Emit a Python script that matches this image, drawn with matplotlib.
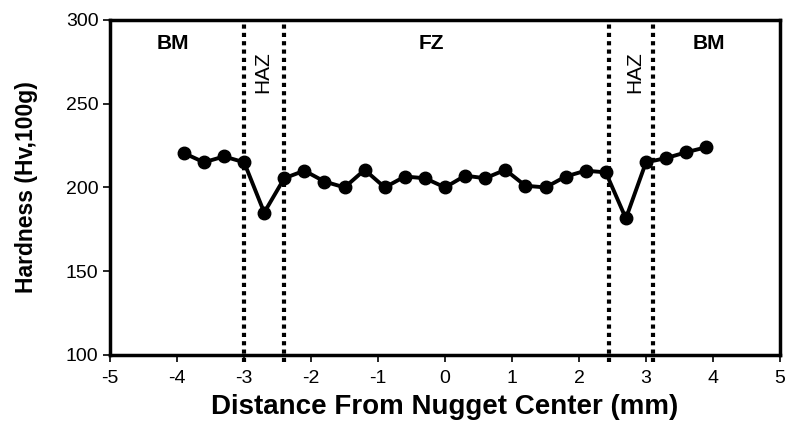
import numpy as np
import matplotlib.pyplot as plt

plt.rcParams['font.family'] = ['Liberation Sans', 'DejaVu Sans']
plt.rcParams['axes.unicode_minus'] = False

# hardness profile across the weld
distance = [-3.9, -3.6, -3.3, -3.0, -2.7, -2.4, -2.1, -1.8, -1.5, -1.2, -0.9, -0.6, -0.3, 0.0,
            0.3, 0.6, 0.9, 1.2, 1.5, 1.8, 2.1, 2.4, 2.7, 3.0, 3.3, 3.6, 3.9]
hardness = [220.5, 215, 218.5, 215, 185, 205.5, 210, 203.5, 200, 210.5, 200, 206.5, 205.5, 200,
            207, 205.5, 210.5, 201, 200, 206.5, 210, 209, 181.5, 215, 217.5, 221, 224]

# zone boundaries
boundaries = [-3.0, -2.4, 2.45, 3.1]
zone_labels = ['BM', 'FZ', 'BM']
zone_x = [-4.07, -0.2, 3.94]
haz_x = [-2.72, 2.83]

fig = plt.figure(figsize=(7.87, 4.25), dpi=100)
ax = fig.add_axes([0.14, 0.165, 0.851, 0.788])

for b in boundaries:
    ax.axvline(b, ymin=-0.02, ymax=1, color='black', linestyle=(0, (1, 1)), lw=3, clip_on=False, zorder=1)

ax.plot(distance, hardness, color='black', lw=2.8, marker='o', markersize=9, zorder=3)

for lab, xx in zip(zone_labels, zone_x):
    ax.text(xx, 286, lab, ha='center', va='center', fontsize=15, fontweight='bold')
for xx in haz_x:
    ax.text(xx, 269, 'HAZ', ha='center', va='center', rotation=90, fontsize=15)

ax.set_xlim(-5, 5)
ax.set_ylim(100, 300)
ax.set_xticks(range(-5, 6))
ax.set_yticks([100, 150, 200, 250, 300])
ax.tick_params(axis='both', labelsize=14, length=5, width=1.2, direction='out')
ax.tick_params(axis='x', pad=6)
for s in ax.spines.values():
    s.set_linewidth(2.5)

ax.set_xlabel('Distance From Nugget Center (mm)', fontsize=20, fontweight='bold', labelpad=5)
ax.set_ylabel('Hardness (Hv,100g)', fontsize=16.5, fontweight='bold', labelpad=20)

fig.savefig('out.png', dpi=100)
